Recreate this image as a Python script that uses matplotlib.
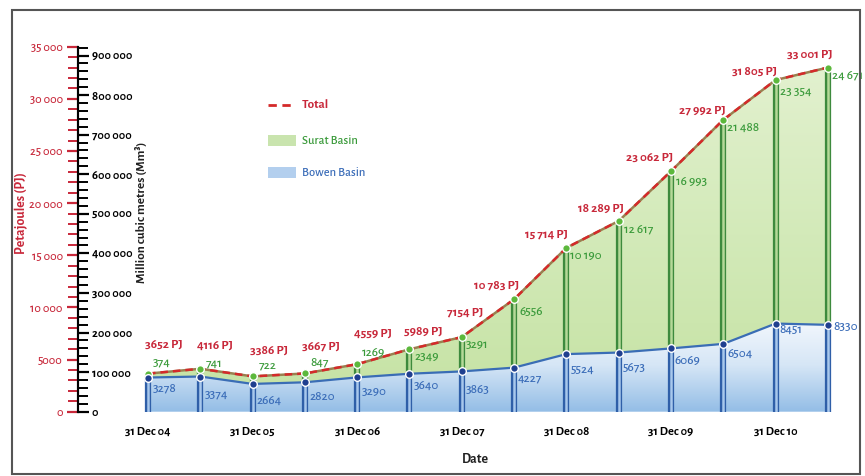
import numpy as np
import matplotlib
matplotlib.use("Agg")
import matplotlib.pyplot as plt
from matplotlib.lines import Line2D
from matplotlib.patches import Rectangle
from matplotlib.colors import LinearSegmentedColormap
from matplotlib.ticker import MultipleLocator, FuncFormatter

# ---------------- data ----------------
dates = ["31 Dec 04", "30 Jun 05", "31 Dec 05", "30 Jun 06", "31 Dec 06", "30 Jun 07",
         "31 Dec 07", "30 Jun 08", "31 Dec 08", "30 Jun 09", "31 Dec 09", "30 Jun 10",
         "31 Dec 10", "30 Jun 11"]
total_pj = [3652, 4116, 3386, 3667, 4559, 5989, 7154, 10783, 15714, 18289, 23062, 27992, 31805, 33001]
surat = [374, 741, 722, 847, 1269, 2349, 3291, 6556, 10190, 12617, 16993, 21488, 23354, 24671]
bowen = [3278, 3374, 2664, 2820, 3290, 3640, 3863, 4227, 5524, 5673, 6069, 6504, 8451, 8330]
xtick_labels = ["31 Dec 04", "31 Dec 05", "31 Dec 06", "31 Dec 07", "31 Dec 08", "31 Dec 09", "31 Dec 10"]
MM3_PER_PJ = 26.35

# ---------------- layout (label offsets in pixels) ----------------
tot_off = [(16, 29), (15, 24), (16, 26), (16, 27), (16, 31), (14, 18), (3, 25),
           (-17, 14), (-20, 14), (-18, 13), (-21, 14), (-21, 10), (-21, 9), (-18, 13)]
sur_off = [(5, 11), (5, 6), (6, 10), (5, 10), (5, 12), (5, -8), (4, -7),
           (5, -11), (4, -8), (5, -8), (5, -10), (4, -9), (4, -12), (4, -7)]
bow_off = [(5, -11), (4, -18), (4, -16), (4, -14), (4, -14), (4, -12), (4, -17),
           (4, -10), (4, -16), (4, -14), (4, -12), (4, -9), (4, -7), (5, -2)]

FONT = ["Alegreya Sans", "DejaVu Sans"]
plt.rcParams["font.family"] = FONT

RED = "#c8283a"
GREEN_T = "#3a9a3a"
BLUE_T = "#3a6cb8"
FS = 9.5

W, H = 865, 476
fig = plt.figure(figsize=(W / 100, H / 100), dpi=100)

x = np.arange(len(dates))
xpx0, dxpx = 148, 52.3
left_px, right_px = 78, 842
bottom_px, top_px = 411.7, 46.7
ax = fig.add_axes([left_px / W, 1 - bottom_px / H, (right_px - left_px) / W, (bottom_px - top_px) / H])
xlim = ((left_px - xpx0) / dxpx, (right_px - xpx0) / dxpx)
ylim = (0, 35000)

bowen_a = np.array(bowen)
total_a = np.array(total_pj)

# gradient fills clipped to areas
blue_cmap = LinearSegmentedColormap.from_list("b", ["#93bde6", "#d6e6f6", "#f4f8fd"])
green_cmap = LinearSegmentedColormap.from_list("g", ["#c5e2a3", "#d3eab9", "#e3f1d0"])
grad = np.linspace(0, 1, 256).reshape(-1, 1)

pb = ax.fill_between(x, 0, bowen_a, color="none", lw=0)
im = ax.imshow(grad, extent=[x[0], x[-1], 0, 9000], origin="lower", aspect="auto",
               cmap=blue_cmap, zorder=1)
im.set_clip_path(pb.get_paths()[0], transform=ax.transData)

pg = ax.fill_between(x, bowen_a, total_a, color="none", lw=0)
im2 = ax.imshow(grad, extent=[x[0], x[-1], 0, 34000], origin="lower", aspect="auto",
                cmap=green_cmap, zorder=1)
im2.set_clip_path(pg.get_paths()[0], transform=ax.transData)

# vertical bars
for i in x:
    ax.plot([i, i], [0, bowen[i]], color="#2f5fa8", lw=4.5, zorder=3, solid_capstyle="butt")
    ax.plot([i, i], [0, bowen[i]], color="#a8c8ec", lw=1.8, zorder=3.1, solid_capstyle="butt")
    ax.plot([i, i], [bowen[i], total_pj[i]], color="#3d8a3d", lw=4.5, zorder=3, solid_capstyle="butt")
    ax.plot([i, i], [bowen[i], total_pj[i]], color="#b5d998", lw=1.8, zorder=3.1, solid_capstyle="butt")

# lines
ax.plot(x, bowen_a, color="#3a6db5", lw=1.6, zorder=4)
ax.plot(x, total_a, color="#9a8050", lw=1.8, zorder=4)
ax.plot(x, total_a, color="#d42a2a", lw=1.8, dashes=(3, 2), zorder=4.1)

# markers
ax.plot(x, total_a, "o", ms=5.5, mfc="#5cb83c", mec="white", mew=1, zorder=5)
ax.plot(x, bowen_a, "o", ms=5.5, mfc="#1f3f8f", mec="white", mew=1, zorder=5)

def fmt_num(v):
    if v >= 10000:
        return f"{v:,}".replace(",", " ")
    return str(v)

for i in x:
    ax.annotate(fmt_num(total_pj[i]) + " PJ", (i, total_pj[i]), xytext=tot_off[i],
                textcoords="offset pixels", ha="center", va="center", color=RED,
                fontsize=FS, fontweight="bold", zorder=6)
    ax.annotate(fmt_num(surat[i]), (i, total_pj[i]), xytext=sur_off[i],
                textcoords="offset pixels", ha="left", va="center", color=GREEN_T,
                fontsize=FS, fontweight="medium", zorder=6)
    ax.annotate(fmt_num(bowen[i]), (i, bowen[i]), xytext=bow_off[i],
                textcoords="offset pixels", ha="left", va="center", color=BLUE_T,
                fontsize=FS, fontweight="medium", zorder=6)

ax.set_xlim(*xlim)
ax.set_ylim(*ylim)

# left (PJ) axis
for s in ["top", "right", "bottom"]:
    ax.spines[s].set_visible(False)
ax.spines["left"].set_color("black")
ax.spines["left"].set_linewidth(1.5)
ax.yaxis.set_major_locator(MultipleLocator(5000))
ax.yaxis.set_minor_locator(MultipleLocator(1000))
ax.yaxis.set_major_formatter(FuncFormatter(lambda v, p: fmt_num(int(v))))
ax.tick_params(axis="y", which="major", colors=RED, length=8, width=1.6, pad=3,
               labelsize=9)
ax.tick_params(axis="y", which="minor", colors=RED, length=7, width=1.4)
for lab in ax.get_yticklabels():
    lab.set_fontweight("medium")

ax.set_xticks(x[::2])
ax.set_xticklabels(xtick_labels, fontsize=9, fontweight="bold")
ax.tick_params(axis="x", length=0, pad=10)

# right (Mm3) axis sharing the same spine
ax2 = ax.twinx()
ax2.set_ylim(0, 35000 * MM3_PER_PJ)
for s in ["top", "left", "bottom"]:
    ax2.spines[s].set_visible(False)
ax2.spines["right"].set_position(("axes", 0))
ax2.spines["right"].set_linewidth(1.5)
ax2.yaxis.set_major_locator(MultipleLocator(100000))
ax2.yaxis.set_minor_locator(MultipleLocator(20000))
ax2.yaxis.set_major_formatter(FuncFormatter(lambda v, p: fmt_num(int(v)) if v >= 10000 else str(int(v))))
ax2.tick_params(axis="y", which="major", colors="black", length=8, width=1.6, pad=2, labelsize=9)
ax2.tick_params(axis="y", which="minor", colors="black", length=7, width=1.4)
for lab in ax2.get_yticklabels():
    lab.set_fontweight("bold")

# axis titles
fig.text(22 / W, 1 - 213 / H, "Petajoules (PJ)", rotation=90, ha="center", va="center",
         color=RED, fontsize=10, fontweight="bold")
fig.text(141 / W, 1 - 212 / H, "Million cubic metres (Mm\u00b3)", rotation=90, ha="center",
         va="center", color="#222222", fontsize=9.5, fontweight="bold")
fig.text(475 / W, 1 - 459 / H, "Date", ha="center", va="center", color="#222222",
         fontsize=10, fontweight="bold")

# legend (manual)
fig.add_artist(Line2D([268 / W, 292 / W], [1 - 105 / H] * 2, color="#d42a2a", lw=2,
                      dashes=(3, 2)))
fig.text(302 / W, 1 - 105 / H, "Total", color=RED, fontsize=9.5, fontweight="bold", va="center")
fig.add_artist(Rectangle((268 / W, 1 - 146 / H), 28 / W, 11 / H, facecolor="#c9e4ae",
                         edgecolor="none", transform=fig.transFigure))
fig.text(302 / W, 1 - 141 / H, "Surat Basin", color=GREEN_T, fontsize=9, va="center",
         fontweight="medium")
fig.add_artist(Rectangle((268 / W, 1 - 178 / H), 28 / W, 11 / H, facecolor="#b3cfee",
                         edgecolor="none", transform=fig.transFigure))
fig.text(302 / W, 1 - 173 / H, "Bowen Basin", color=BLUE_T, fontsize=9, va="center",
         fontweight="medium")

# frame
fig.add_artist(Rectangle((12 / W, 1 - 474 / H), 848 / W, 464 / H, fill=False,
                         edgecolor="#555555", lw=1.5, transform=fig.transFigure))

fig.savefig("out.png", dpi=100)
